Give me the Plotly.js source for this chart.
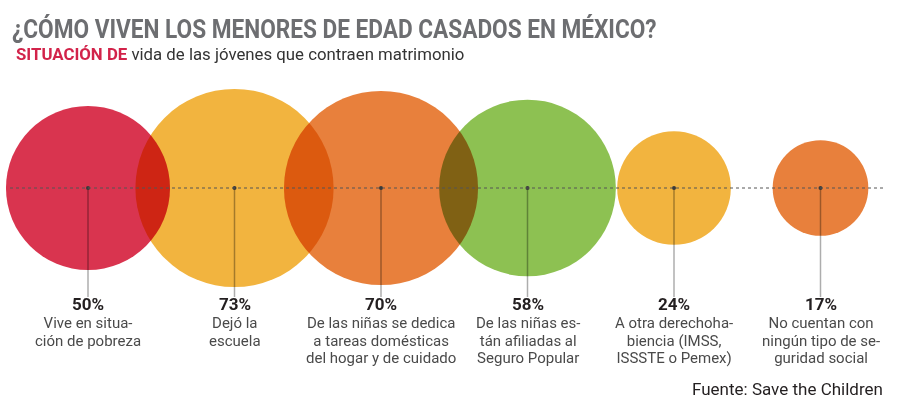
<!DOCTYPE html>
<html><head><meta charset="utf-8">
<script src="https://cdn.plot.ly/plotly-3.0.1.min.js"></script>
<style>
html,body{margin:0;padding:0;background:#fff;}
#chart{width:900px;height:414px;}
.scatterlayer .trace:first-child .points path{mix-blend-mode:multiply;}
</style></head><body><div id="chart"></div>
<script>
const categories = ['Pobreza', 'Escuela', 'Tareas domésticas', 'Seguro Popular', 'Otra derechohabiencia', 'Sin seguridad social'];
const values = [50, 73, 70, 58, 24, 17];
const descriptions = [
  ['Vive en situa-', 'ción de pobreza'],
  ['Dejó la', 'escuela'],
  ['De las niñas se dedica', 'a tareas domésticas', 'del hogar y de cuidado'],
  ['De las niñas es-', 'tán afiliadas al', 'Seguro Popular'],
  ['A otra derechoha-', 'biencia (IMSS,', 'ISSSTE o Pemex)'],
  ['No cuentan con', 'ningún tipo de se-', 'guridad social']
];
const bubbleColors = ['#d9344f', '#f2b43f', '#e8803c', '#8dc152', '#f2b43f', '#e8803c'];
const titleText = '¿CÓMO VIVEN LOS MENORES DE EDAD CASADOS EN MÉXICO?';
const subtitleHighlight = 'SITUACIÓN DE';
const subtitleRest = 'vida de las jóvenes que contraen matrimonio';
const sourceText = 'Fuente: Save the Children';

const xs = categories.map((c, i) => i);
const zeros = categories.map(() => 0);
const FONT = 'Roboto, "Open Sans", sans-serif';

const bubbles = {
  type: 'scatter', mode: 'markers', x: xs, y: zeros, text: categories,
  marker: {
    size: values.map(v => 2 * 11.6 * Math.sqrt(v)),
    sizemode: 'diameter',
    color: bubbleColors, opacity: 1, line: {width: 0}
  },
  hoverinfo: 'skip', showlegend: false
};

const stemX = [], stemY = [];
xs.forEach(x => { stemX.push(x, x, null); stemY.push(0, -109, null); });
const stems = {
  type: 'scatter', mode: 'lines', x: stemX, y: stemY,
  line: {color: 'rgba(0,0,0,0.32)', width: 1.5},
  hoverinfo: 'skip', showlegend: false
};
const dots = {
  type: 'scatter', mode: 'markers', x: xs, y: zeros,
  marker: {size: 4, color: '#3a3a3a'},
  hoverinfo: 'skip', showlegend: false
};

const annotations = [];
xs.forEach((x, i) => {
  annotations.push({
    x: x, y: -116, xref: 'x', yref: 'y', xanchor: 'center', yanchor: 'middle',
    text: '<b>' + values[i] + '%</b>', showarrow: false,
    font: {family: FONT, size: 17, color: '#231f20'}
  });
  annotations.push({
    x: x, y: -124, xref: 'x', yref: 'y', xanchor: 'center', yanchor: 'top',
    text: descriptions[i].map(l => '<span style="font-size:15px">' + l + '</span>').join('<br>'),
    showarrow: false, align: 'center',
    font: {family: FONT, size: 13.6, color: '#4a4a4a'}
  });
});
annotations.push({
  x: 14 / 900, y: 1 - 54 / 414, xref: 'paper', yref: 'paper', xanchor: 'left', yanchor: 'middle',
  text: '<b><span style="color:#d2234a">' + subtitleHighlight + '</span></b> ' + subtitleRest,
  showarrow: false, font: {family: FONT, size: 16.8, color: '#333333'}
});
annotations.push({
  x: 885 / 900, y: 1 - 389 / 414, xref: 'paper', yref: 'paper', xanchor: 'right', yanchor: 'middle',
  text: sourceText, showarrow: false, font: {family: FONT, size: 17, color: '#231f20'}
});

const layout = {
  width: 900, height: 414,
  margin: {l: 0, r: 0, t: 0, b: 0},
  paper_bgcolor: '#ffffff', plot_bgcolor: '#ffffff',
  title: {
    text: '<b>' + titleText + '</b>', x: 12 / 900, xanchor: 'left', y: 1 - 29 / 414, yanchor: 'middle',
    font: {family: FONT, size: 25, color: '#6d6e71'}
  },
  xaxis: {range: [-0.6007, 5.5427], visible: false, fixedrange: true},
  yaxis: {range: [-226, 188], visible: false, fixedrange: true},
  shapes: [{
    type: 'line', xref: 'paper', yref: 'y', x0: 10 / 900, x1: 885 / 900, y0: 0, y1: 0,
    layer: 'above', line: {color: '#555555', width: 1, dash: 'dot'}
  }],
  annotations: annotations,
  showlegend: false
};

Plotly.newPlot('chart', [bubbles, stems, dots], layout, {staticPlot: true, displayModeBar: false}).then(gd => {
  // condense the title horizontally to mimic the condensed headline face
  const t = gd.querySelector('.gtitle');
  if (t) {
    const bb = t.getBBox();
    const target = 645;
    const s = target / bb.width;
    const x0 = bb.x;
    t.setAttribute('transform', 'translate(' + x0 + ',0) scale(' + s + ',1) translate(' + (-x0) + ',0)');
  }
});
</script></body></html>
